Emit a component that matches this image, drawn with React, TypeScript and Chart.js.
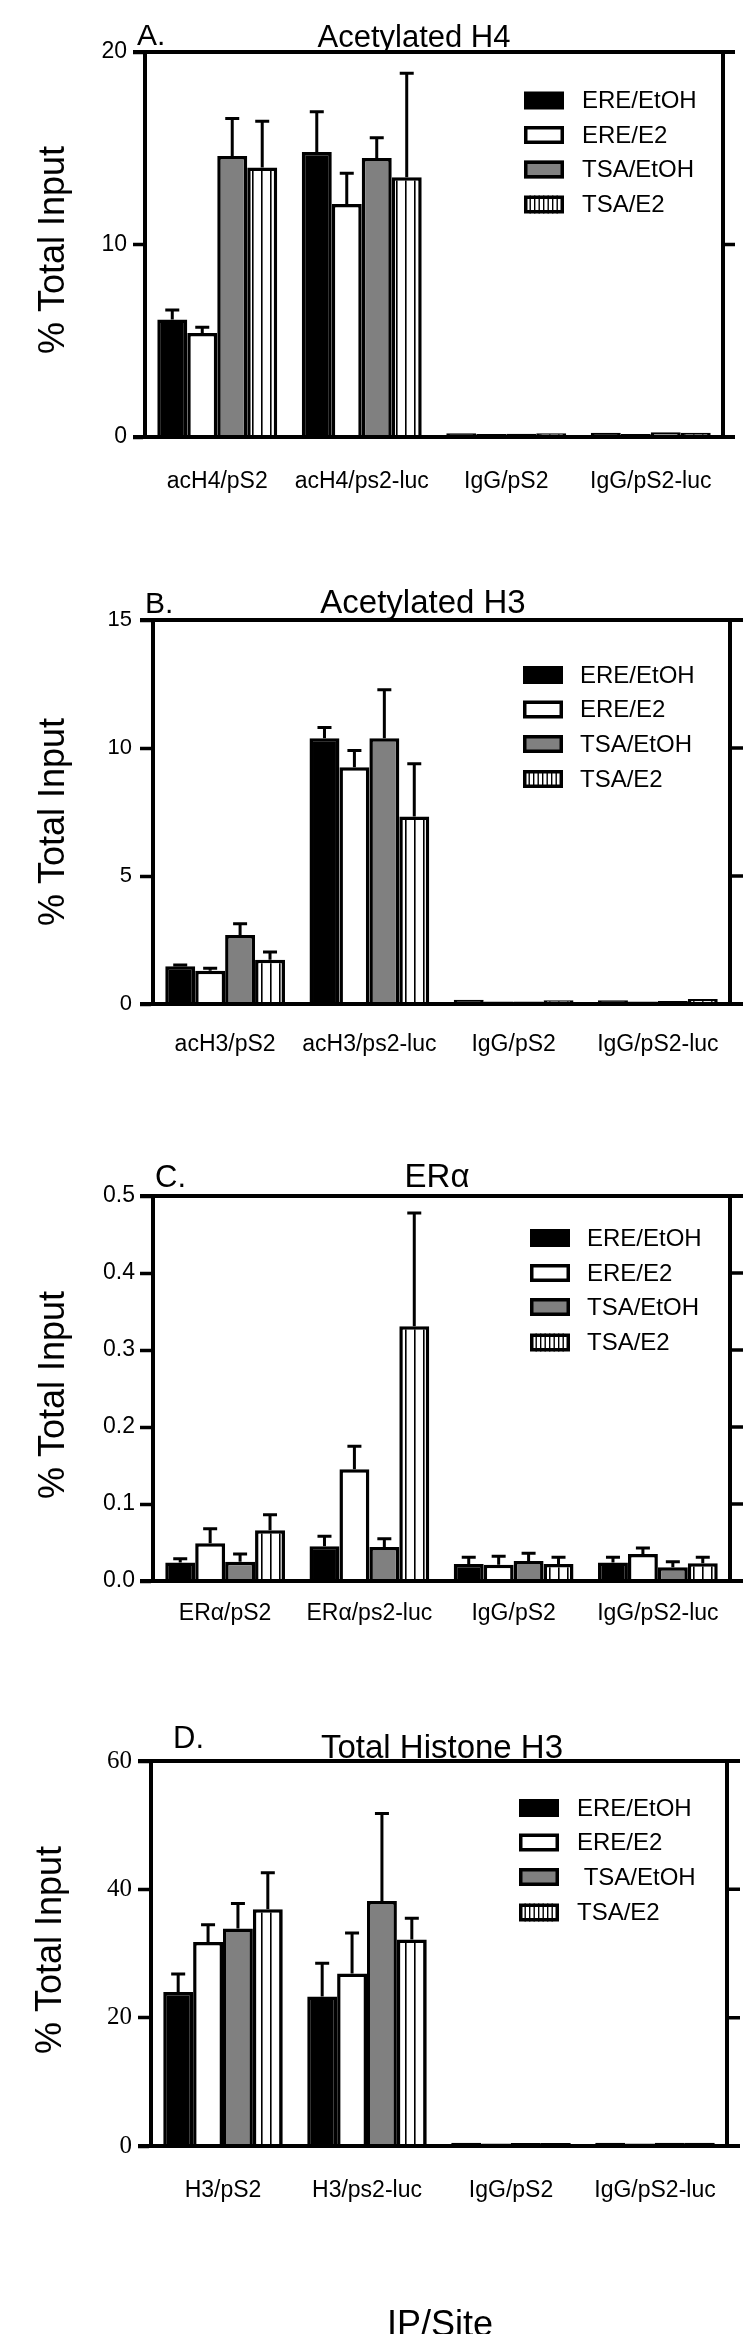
import React, { useEffect, useRef } from 'react';
import { Chart, registerables } from 'chart.js';

Chart.register(...registerables);

// ---------------- shared labels ----------------
const seriesNames = ['ERE/EtOH', 'ERE/E2', 'TSA/EtOH', 'TSA/E2'];
const seriesNamesD = ['ERE/EtOH', 'ERE/E2', ' TSA/EtOH', 'TSA/E2'];
const yTitle = '% Total Input';
const xTitle = 'IP/Site';

// ---------------- Panel A ----------------
const letterA = 'A.';
const titleA = 'Acetylated H4';
const categoriesA = ['acH4/pS2', 'acH4/ps2-luc', 'IgG/pS2', 'IgG/pS2-luc'];
const ticksA = [0, 10, 20];
const tickLabelsA = ['0', '10', '20'];
const ereEtohA = [6.1, 14.8, 0.2, 0.22];
const ereE2A = [5.4, 12.1, 0.15, 0.15];
const tsaEtohA = [14.6, 14.5, 0.17, 0.25];
const tsaE2A = [14.0, 13.5, 0.2, 0.22];
const ereEtohErrA = [0.5, 2.1, 0, 0];
const ereE2ErrA = [0.3, 1.6, 0, 0];
const tsaEtohErrA = [1.95, 1.05, 0, 0];
const tsaE2ErrA = [2.4, 5.4, 0, 0];

// ---------------- Panel B ----------------
const letterB = 'B.';
const titleB = 'Acetylated H3';
const categoriesB = ['acH3/pS2', 'acH3/ps2-luc', 'IgG/pS2', 'IgG/pS2-luc'];
const ticksB = [0, 5, 10, 15];
const tickLabelsB = ['0', '5', '10', '15'];
const ereEtohB = [1.47, 10.38, 0.17, 0.15];
const ereE2B = [1.3, 9.25, 0.1, 0.1];
const tsaEtohB = [2.7, 10.38, 0.1, 0.12];
const tsaE2B = [1.73, 7.32, 0.15, 0.2];
const ereEtohErrB = [0.05, 0.42, 0, 0];
const ereE2ErrB = [0.1, 0.65, 0, 0];
const tsaEtohErrB = [0.43, 1.9, 0, 0];
const tsaE2ErrB = [0.3, 2.06, 0, 0];

// ---------------- Panel C ----------------
const letterC = 'C.';
const titleC = 'ER\u03B1';
const categoriesC = ['ER\u03B1/pS2', 'ER\u03B1/ps2-luc', 'IgG/pS2', 'IgG/pS2-luc'];
const ticksC = [0, 0.1, 0.2, 0.3, 0.4, 0.5];
const tickLabelsC = ['0.0', '0.1', '0.2', '0.3', '0.4', '0.5'];
const ereEtohC = [0.024, 0.045, 0.022, 0.024];
const ereE2C = [0.049, 0.145, 0.021, 0.035];
const tsaEtohC = [0.025, 0.044, 0.026, 0.018];
const tsaE2C = [0.066, 0.331, 0.022, 0.023];
const ereEtohErrC = [0.005, 0.013, 0.009, 0.007];
const ereE2ErrC = [0.019, 0.03, 0.011, 0.008];
const tsaEtohErrC = [0.01, 0.011, 0.01, 0.007];
const tsaE2ErrC = [0.02, 0.147, 0.009, 0.008];

// ---------------- Panel D ----------------
const letterD = 'D.';
const titleD = 'Total Histone H3';
const categoriesD = ['H3/pS2', 'H3/ps2-luc', 'IgG/pS2', 'IgG/pS2-luc'];
const ticksD = [0, 20, 40, 60];
const tickLabelsD = ['0', '20', '40', '60'];
const ereEtohD = [24.0, 23.3, 0.5, 0.5];
const ereE2D = [31.8, 26.9, 0.4, 0.4];
const tsaEtohD = [33.9, 38.2, 0.45, 0.5];
const tsaE2D = [36.9, 32.2, 0.45, 0.5];
const ereEtohErrD = [2.8, 5.2, 0, 0];
const ereE2ErrD = [2.7, 6.3, 0, 0];
const tsaEtohErrD = [3.9, 13.6, 0, 0];
const tsaE2ErrD = [5.7, 3.3, 0, 0];

const panelsData = [
  { letter: letterA, title: titleA, categories: categoriesA, ticks: ticksA, tickLabels: tickLabelsA,
    values: [ereEtohA, ereE2A, tsaEtohA, tsaE2A], errors: [ereEtohErrA, ereE2ErrA, tsaEtohErrA, tsaE2ErrA], names: seriesNames },
  { letter: letterB, title: titleB, categories: categoriesB, ticks: ticksB, tickLabels: tickLabelsB,
    values: [ereEtohB, ereE2B, tsaEtohB, tsaE2B], errors: [ereEtohErrB, ereE2ErrB, tsaEtohErrB, tsaE2ErrB], names: seriesNames },
  { letter: letterC, title: titleC, categories: categoriesC, ticks: ticksC, tickLabels: tickLabelsC,
    values: [ereEtohC, ereE2C, tsaEtohC, tsaE2C], errors: [ereEtohErrC, ereE2ErrC, tsaEtohErrC, tsaE2ErrC], names: seriesNames },
  { letter: letterD, title: titleD, categories: categoriesD, ticks: ticksD, tickLabels: tickLabelsD,
    values: [ereEtohD, ereE2D, tsaEtohD, tsaE2D], errors: [ereEtohErrD, ereE2ErrD, tsaEtohErrD, tsaE2ErrD], names: seriesNamesD },
];

// ---------------- layout / style ----------------
const SANS = '"Liberation Sans", Arial, Helvetica, sans-serif';
const SERIF = '"Liberation Serif", "Times New Roman", serif';

const panelLayouts = [
  { top: 0, height: 520, area: { l: 145, r: 723, t: 52, b: 437 }, tick: 12,
    tickFont: { family: SANS, size: 23 }, tickPad: 6, xFont: { family: SANS, size: 23 }, xPad: 31,
    letter: { x: 137, y: 45, size: 30 }, title: { x: 414, y: 47, size: 31 }, yTitle: { x: 64, y: 250 },
    legend: { x: 524, tx: 582, rows: [100.5, 135, 169.5, 204.5] }, xTitle: null },
  { top: 560, height: 530, area: { l: 153, r: 730, t: 620, b: 1004 }, tick: 13,
    tickFont: { family: SANS, size: 22 }, tickPad: 8, xFont: { family: SANS, size: 23 }, xPad: 27,
    letter: { x: 145, y: 613, size: 30 }, title: { x: 423, y: 613, size: 33 }, yTitle: { x: 64, y: 822 },
    legend: { x: 523, tx: 580, rows: [675, 709.5, 744, 779] }, xTitle: null },
  { top: 1140, height: 510, area: { l: 153, r: 730, t: 1196, b: 1581 }, tick: 13,
    tickFont: { family: SANS, size: 23 }, tickPad: 5, xFont: { family: SANS, size: 23 }, xPad: 19,
    letter: { x: 155, y: 1187, size: 31 }, title: { x: 437, y: 1187, size: 33 }, yTitle: { x: 64, y: 1395 },
    legend: { x: 530, tx: 587, rows: [1238, 1273, 1307, 1342.5] }, xTitle: null },
  { top: 1700, height: 634, area: { l: 151, r: 727, t: 1761, b: 2146 }, tick: 13,
    tickFont: { family: SERIF, size: 25 }, tickPad: 6, xFont: { family: SANS, size: 23 }, xPad: 31,
    letter: { x: 173, y: 1748, size: 31 }, title: { x: 442, y: 1758, size: 33 }, yTitle: { x: 61, y: 1950 },
    legend: { x: 519, tx: 577, rows: [1808, 1842.5, 1877, 1912.5] }, xTitle: { x: 440, y: 2336, size: 36 } },
];

function makeStripePattern(period: number, lineW: number): any {
  const c = document.createElement('canvas');
  c.width = period;
  c.height = 4;
  const g = c.getContext('2d');
  if (!g) return '#ffffff';
  g.fillStyle = '#ffffff';
  g.fillRect(0, 0, period, 4);
  g.fillStyle = '#000000';
  g.fillRect(0, 0, lineW, 4);
  return g.createPattern(c, 'repeat') || '#ffffff';
}

function Panel({ data, lay }: { data: any; lay: any }) {
  const ref = useRef<HTMLCanvasElement | null>(null);

  useEffect(() => {
    const canvas = ref.current;
    if (!canvas) return;
    const stripes = makeStripePattern(9, 1.6);
    const fills = ['#000000', '#ffffff', '#808080', stripes];
    const a = lay.area;
    const T = lay.top;
    const localTop = a.t - T;
    const localBottom = a.b - T;

    const deco = {
      id: 'deco',
      afterDatasetsDraw(chart: any) {
        const ctx = chart.ctx;
        const ys = chart.scales.y;
        ctx.save();
        ctx.strokeStyle = '#000000';
        ctx.lineWidth = 3;
        chart.data.datasets.forEach((ds: any, i: number) => {
          const meta = chart.getDatasetMeta(i);
          const errs = data.errors[i];
          meta.data.forEach((bar: any, j: number) => {
            const e = errs[j];
            if (!e) return;
            const v = ds.data[j];
            const y0 = ys.getPixelForValue(v);
            const y1 = ys.getPixelForValue(v + e);
            ctx.beginPath();
            ctx.moveTo(bar.x, y0);
            ctx.lineTo(bar.x, y1);
            ctx.moveTo(bar.x - 7, y1);
            ctx.lineTo(bar.x + 7, y1);
            ctx.stroke();
          });
        });
        ctx.restore();
      },
      afterDraw(chart: any) {
        const ctx = chart.ctx;
        const ca = chart.chartArea;
        const ys = chart.scales.y;
        ctx.save();
        // frame
        ctx.strokeStyle = '#000000';
        ctx.lineWidth = 4;
        ctx.beginPath();
        ctx.moveTo(ca.left - lay.tick, ca.top);
        ctx.lineTo(ca.right + lay.tick, ca.top);
        ctx.moveTo(ca.left - lay.tick, ca.bottom);
        ctx.lineTo(ca.right + lay.tick, ca.bottom);
        ctx.moveTo(ca.right, ca.top);
        ctx.lineTo(ca.right, ca.bottom);
        ctx.stroke();
        ctx.lineWidth = 3.5;
        ctx.beginPath();
        data.ticks.forEach((v: number) => {
          const y = ys.getPixelForValue(v);
          ctx.moveTo(ca.right, y);
          ctx.lineTo(ca.right + lay.tick, y);
        });
        ctx.stroke();

        // letter and title
        ctx.fillStyle = '#000000';
        ctx.textBaseline = 'alphabetic';
        ctx.textAlign = 'left';
        ctx.font = `${lay.letter.size}px ${SANS}`;
        ctx.fillText(data.letter, lay.letter.x, lay.letter.y - T);
        ctx.textAlign = 'center';
        ctx.font = `${lay.title.size}px ${SANS}`;
        ctx.fillText(data.title, lay.title.x, lay.title.y - T);

        // y title
        ctx.save();
        ctx.translate(lay.yTitle.x, lay.yTitle.y - T);
        ctx.rotate(-Math.PI / 2);
        ctx.font = `36px ${SANS}`;
        ctx.textAlign = 'center';
        ctx.textBaseline = 'alphabetic';
        ctx.fillText(yTitle, 0, 0);
        ctx.restore();

        // legend
        const L = lay.legend;
        data.names.forEach((name: string, i: number) => {
          const cy = L.rows[i] - T;
          const x = L.x;
          const y = cy - 9;
          const w = 40;
          const h = 18;
          if (i === 0) {
            ctx.fillStyle = fills[0];
            ctx.fillRect(x, y, w, h);
          } else {
            ctx.fillStyle = i === 2 ? fills[2] : '#ffffff';
            ctx.fillRect(x, y, w, h);
            if (i === 3) {
              ctx.fillStyle = '#000000';
              for (let sx = x + 5.5; sx < x + w - 4; sx += 4.5) ctx.fillRect(sx, y, 1.4, h);
            }
            ctx.lineWidth = 3.5;
            ctx.strokeStyle = '#000000';
            ctx.strokeRect(x + 1.75, y + 1.75, w - 3.5, h - 3.5);
          }
          ctx.fillStyle = '#000000';
          ctx.font = `24px ${SANS}`;
          ctx.textAlign = 'left';
          ctx.textBaseline = 'middle';
          ctx.fillText(name, L.tx, cy + 1);
        });

        if (lay.xTitle) {
          ctx.fillStyle = '#000000';
          ctx.font = `${lay.xTitle.size}px ${SANS}`;
          ctx.textAlign = 'center';
          ctx.textBaseline = 'alphabetic';
          ctx.fillText(xTitle, lay.xTitle.x, lay.xTitle.y - T);
        }
        ctx.restore();
      },
    };

    const chart = new Chart(canvas, {
      type: 'bar',
      data: {
        labels: data.categories,
        datasets: data.values.map((vals: number[], i: number) => ({
          label: data.names[i],
          data: vals,
          backgroundColor: fills[i],
          borderColor: '#000000',
          borderWidth: 3.5,
          borderSkipped: 'start',
          barPercentage: 1,
          categoryPercentage: 0.83,
        })),
      },
      options: {
        responsive: false,
        animation: false,
        devicePixelRatio: 1,
        events: [],
        layout: { padding: { left: 0, right: 750 - a.r, top: localTop, bottom: 0 } },
        plugins: {
          legend: { display: false },
          title: { display: false },
          tooltip: { enabled: false },
        },
        scales: {
          x: {
            type: 'category',
            grid: { display: false, drawTicks: false },
            border: { display: false },
            ticks: {
              color: '#000000',
              font: lay.xFont,
              padding: lay.xPad,
              autoSkip: false,
              maxRotation: 0,
              minRotation: 0,
            },
            afterFit: (s: any) => {
              s.height = lay.height - localBottom;
            },
          },
          y: {
            type: 'linear',
            min: data.ticks[0],
            max: data.ticks[data.ticks.length - 1],
            afterBuildTicks: (s: any) => {
              s.ticks = data.ticks.map((v: number) => ({ value: v }));
            },
            ticks: {
              color: '#000000',
              font: lay.tickFont,
              padding: lay.tickPad,
              callback: (_v: any, i: number) => data.tickLabels[i],
            },
            grid: {
              drawOnChartArea: false,
              drawTicks: true,
              tickLength: lay.tick,
              tickWidth: 3.5,
              tickColor: '#000000',
              color: '#000000',
            },
            border: { display: true, width: 4, color: '#000000' },
            afterFit: (s: any) => {
              s.width = a.l;
            },
          },
        },
      },
      plugins: [deco],
    } as any);

    return () => chart.destroy();
  }, [data, lay]);

  return (
    <canvas
      ref={ref}
      width={750}
      height={lay.height}
      style={{ position: 'absolute', left: 0, top: lay.top, width: 750, height: lay.height, display: 'block' }}
    />
  );
}

export default function App() {
  return (
    <div style={{ position: 'absolute', left: 0, top: 0, width: 750, height: 2334, background: '#ffffff', overflow: 'hidden' }}>
      {panelsData.map((d, i) => (
        <Panel key={i} data={d} lay={panelLayouts[i]} />
      ))}
    </div>
  );
}
